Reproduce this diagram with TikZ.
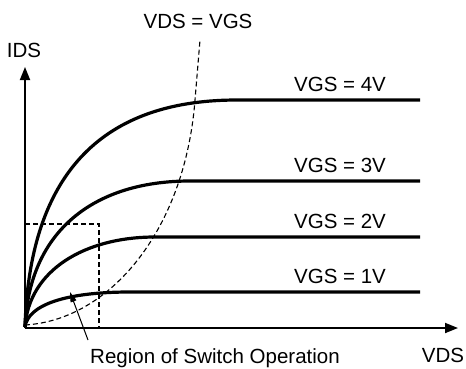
\documentclass[tikz,border=0pt]{standalone}
\usepackage{fontspec}
\setmainfont{Liberation Sans}
\usetikzlibrary{arrows.meta}
\begin{document}
\begin{tikzpicture}[x=1pt,y=-1pt,
  curve/.style={line width=3.2pt,line join=round},
  axis/.style={line width=1.8pt,-{Triangle[length=13pt,width=10pt]}},
  dsh/.style={line width=1.1pt,dash pattern=on 5pt off 3pt},
  lbl/.style={font=\fontsize{20.5}{22}\selectfont,inner sep=0pt,anchor=base},
  ptr/.style={line width=1pt,-{Triangle[length=10pt,width=6pt]}}]
\useasboundingbox (0,0) rectangle (466,368);
% coordinates
\coordinate (O) at (25,328);
\coordinate (ytip) at (25,67);
\coordinate (xtip) at (458,328);
% dashed region rectangle
\draw[dsh] (25,224) -- (99,224) -- (99,328);
% VDS = VGS parabola
\draw[dsh] (25,325) .. controls (110,320) and (185,230) .. (195,100) -- (200,40);
% curves
\draw[curve] (25,327) .. controls (30,160) and (115,100) .. (237,100) -- (420,100);
\draw[curve] (25,327) .. controls (29,230) and (95,181) .. (190,181) -- (420,181);
\draw[curve] (25,327) .. controls (29,270) and (85,237) .. (155,237) -- (420,237);
\draw[curve] (25,327) .. controls (28,305) and (65,292) .. (130,292) -- (420,292);
% axes
\draw[axis] (O) -- (ytip);
\draw[axis] (O) -- (xtip);
% labels
\node[lbl] (ids) at (24,57) {IDS};
\node[lbl] (vds) at (443,362) {VDS};
\node[lbl] (vdsvgs) at (198,28) {VDS = VGS};
\node[lbl] (v4) at (340,91) {VGS = 4V};
\node[lbl] (v3) at (340,172) {VGS = 3V};
\node[lbl] (v2) at (340,228) {VGS = 2V};
\node[lbl] (v1) at (340,283) {VGS = 1V};
\node[lbl] (region) at (215,363) {Region of Switch Operation};
% pointer
\coordinate (regtail) at (88,340);
\coordinate (regtip) at (70,292);
\draw[ptr] (regtail) -- (regtip);
\end{tikzpicture}
\end{document}
